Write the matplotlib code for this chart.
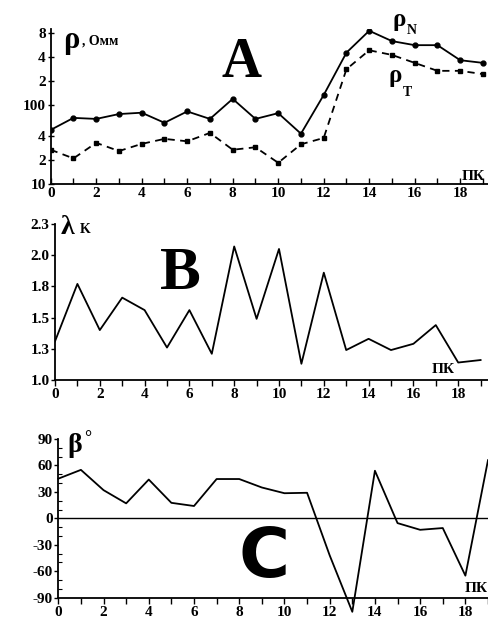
import numpy as np
import matplotlib
matplotlib.use("Agg")
import matplotlib.pyplot as plt
from matplotlib.ticker import FixedLocator, NullLocator, MultipleLocator

# Picket numbers along the profile
pk = list(range(20))

# Apparent resistivity, Ohm*m (log scale)
rho_n = [48, 68, 66, 76, 79, 59, 82, 66, 118, 66, 78, 43, 132, 451, 850, 630, 560, 560, 362, 335]
rho_t = [27, 21, 33, 26, 32, 37, 34.5, 44, 27, 29, 18.5, 31.6, 38, 279, 483, 422, 335, 266, 266, 242]

# Anisotropy coefficient
lam_k = [1.31, 1.77, 1.40, 1.66, 1.56, 1.26, 1.56, 1.21, 2.07, 1.49, 2.05, 1.13, 1.86, 1.24,
         1.33, 1.24, 1.29, 1.44, 1.14, 1.16]

# Azimuth angle, degrees
beta = [45, 55, 32, 17, 44, 17.6, 14, 44.6, 44.6, 35, 28.5, 29, -42, -106, 54, -5.4, -13, -11, -65, 66]

rho_ticks = [10, 20, 40, 100, 200, 400, 800]
rho_ticklabels = ["10", "2", "4", "100", "2", "4", "8"]
lam_ticks = [1.0, 1.25, 1.5, 1.75, 2.0, 2.25]
lam_ticklabels = ["1.0", "1.3", "1.5", "1.8", "2.0", "2.3"]
beta_ticks = [-90, -60, -30, 0, 30, 60, 90]
beta_ticklabels = ["-90", "-60", "-30", "0", "30", "60", "90"]

W, H = 488, 620
fig = plt.figure(figsize=(W / 100, H / 100), dpi=100)
fig.patch.set_facecolor("white")

SERIF = ["Liberation Serif", "DejaVu Serif"]
TICKFONT = dict(family=SERIF, weight="bold", size=11)


def px_axes(left, top, right, bottom):
    return fig.add_axes([left / W, 1 - bottom / H, (right - left) / W, (bottom - top) / H])


def ftext(x, y, s, **kw):
    fig.text(x / W, 1 - y / H, s, **kw)


def style(ax, xdir):
    for side in ("top", "right"):
        ax.spines[side].set_visible(False)
    for side in ("left", "bottom"):
        ax.spines[side].set_linewidth(1.3)
    ax.set_xticks(pk)
    ax.set_xticklabels([str(v) if v % 2 == 0 else "" for v in pk], **TICKFONT)
    ax.tick_params(axis="x", direction=xdir, length=4, width=1.0, pad=2)
    ax.tick_params(axis="y", direction="out", length=3, width=1.0, pad=1)
    ax.set_facecolor("white")


# ---- Panel A: resistivity ----
axA = px_axes(50.7, 28.8, 488, 184)
axA.plot(pk, rho_n, "-", color="black", lw=1.3, marker="o", ms=3.5)
axA.plot(pk, rho_t, "--", color="black", lw=1.3, marker="s", ms=3, dashes=(4, 3))
axA.set_yscale("log")
axA.set_ylim(10, 900)
axA.set_xlim(0, (488 - 50.7) / 22.75)
style(axA, "in")
axA.yaxis.set_major_locator(FixedLocator(rho_ticks))
axA.yaxis.set_minor_locator(NullLocator())
axA.set_yticklabels(rho_ticklabels, **TICKFONT)
axA.tick_params(axis="y", direction="inout", length=5)

ftext(63, 48, "ρ", family=SERIF, weight="bold", size=22, ha="left", va="baseline")
ftext(82, 45, ", Омм", family=SERIF, weight="bold", size=10, ha="left", va="baseline")
ftext(242, 77, "A", family=SERIF, weight="bold", size=40, ha="center", va="baseline")
ftext(393, 26, "ρ", family=SERIF, weight="bold", size=18, ha="left", va="baseline")
ftext(407, 34, "N", family=SERIF, weight="bold", size=10, ha="left", va="baseline")
ftext(388, 82, "ρ", family=SERIF, weight="bold", size=18, ha="left", va="baseline")
ftext(403, 96, "T", family=SERIF, weight="bold", size=10, ha="left", va="baseline")
ftext(462, 180, "ПК", family=SERIF, weight="bold", size=11, ha="left", va="baseline")

# ---- Panel B: anisotropy coefficient ----
axB = px_axes(55, 224, 488, 380)
axB.plot(pk, lam_k, "-", color="black", lw=1.3)
axB.set_ylim(1.0, 2.25)
axB.set_xlim(0, (488 - 55) / 22.4)
style(axB, "out")
axB.set_yticks(lam_ticks)
axB.set_yticklabels(lam_ticklabels, **TICKFONT)

ftext(61, 234, "λ", family=SERIF, weight="bold", size=20, ha="left", va="baseline")
ftext(80, 233, "K", family=SERIF, weight="bold", size=10, ha="left", va="baseline")
ftext(180, 289, "B", family=SERIF, weight="bold", size=44, ha="center", va="baseline")
ftext(432, 373, "ПК", family=SERIF, weight="bold", size=11, ha="left", va="baseline")

# ---- Panel C: azimuth ----
axC = px_axes(58.3, 439, 488, 597.7)
axC.plot(pk, beta, "-", color="black", lw=1.3, clip_on=False)
axC.axhline(0, color="black", lw=1.0)
axC.set_ylim(-90, 90)
axC.set_xlim(0, (488 - 58.3) / 22.9)
style(axC, "out")
axC.set_yticks(beta_ticks)
axC.set_yticklabels(beta_ticklabels, **TICKFONT)
axC.yaxis.set_minor_locator(MultipleLocator(10))
axC.tick_params(axis="y", which="minor", direction="in", length=3, width=0.8)

ftext(67, 452, "β", family=SERIF, weight="bold", size=20, ha="left", va="baseline")
ftext(84, 443, "°", family=SERIF, weight="bold", size=13, ha="left", va="baseline")
ftext(264, 577, "C", family=["DejaVu Sans"], weight="bold", size=50, ha="center", va="baseline")
ftext(465, 592, "ПК", family=SERIF, weight="bold", size=11, ha="left", va="baseline")

fig.savefig("out.png", dpi=100, facecolor="white")
